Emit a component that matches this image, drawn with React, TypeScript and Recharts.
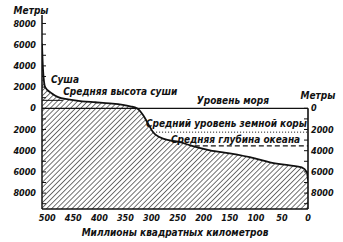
import React from 'react';
import { ComposedChart, Area, XAxis, YAxis, ReferenceLine, ReferenceDot } from 'recharts';

// гипсографическая кривая: площадь (млн км²) и высота/глубина (м)
const areaMln = [510, 508, 504, 491, 479, 460, 433, 408, 380, 341, 328, 316, 307, 297, 284, 265, 245, 226, 188, 150, 102, 73, 35, 12, 2, 0];
const heightM = [6100, 3600, 2000, 1400, 1050, 850, 660, 570, 470, 190, 0, -660, -1420, -2260, -2740, -3020, -3200, -3490, -3960, -4250, -4720, -5100, -5380, -5570, -6040, -6800];

const leftTicks = [8000, 7000, 6000, 5000, 4000, 3000, 2000, 1000, 0, -1000, -2000, -3000, -4000, -5000, -6000, -7000, -8000, -9000];
const rightTicks = [0, -1000, -2000, -3000, -4000, -5000, -6000, -7000, -8000, -9000];
const areaTicks = [0, 50, 100, 150, 200, 250, 300, 350, 400, 450, 500];

const meanLandHeight = 750;
const meanCrustLevel = -2250;
const meanOceanDepth = -3550;

const notes = [
  { text: 'Метры', area: 531, h: 9270, anchor: 'middle' },
  { text: 'Метры', area: -19, h: 1250, anchor: 'middle' },
  { text: 'Суша', area: 466, h: 2670, anchor: 'middle' },
  { text: 'Средняя высота суши', area: 360, h: 1540, anchor: 'middle' },
  { text: 'Уровень моря', area: 144, h: 690, anchor: 'middle' },
  { text: 'Средний уровень земной коры', area: 2, h: -1480, anchor: 'end' },
  { text: 'Средняя глубина океана', area: 15, h: -2990, anchor: 'end' },
];

const data = areaMln.map((a, i) => ({ area: a, h: heightM[i] }));

const FONT = '"DejaVu Sans Condensed", "Liberation Sans Narrow", Roboto, sans-serif';
const INK = '#111';

const textStyle = {
  fontFamily: FONT,
  fontStyle: 'italic' as const,
  fontWeight: 700,
  fill: INK,
};

const LeftTick = (props: any) => {
  const { x, y, payload } = props;
  const v = payload.value;
  return (
    <g>
      <line x1={x} x2={x + 4} y1={y} y2={y} stroke={INK} strokeWidth={1} />
      {v % 2000 === 0 && (
        <text x={x - 6} y={y} dy="0.35em" textAnchor="end" fontSize={9} {...textStyle}>
          {Math.abs(v)}
        </text>
      )}
    </g>
  );
};

const RightTick = (props: any) => {
  const { x, y, payload } = props;
  const v = payload.value;
  return (
    <g>
      <line x1={x - 4} x2={x} y1={y} y2={y} stroke={INK} strokeWidth={1} />
      {v % 2000 === 0 && (
        <text x={x + 3} y={y} dy="0.35em" textAnchor="start" fontSize={9} {...textStyle}>
          {Math.abs(v)}
        </text>
      )}
    </g>
  );
};

const Note = (props: any) => {
  const { viewBox, text, anchor } = props;
  const cx = viewBox.x + (viewBox.width || 0) / 2;
  const cy = viewBox.y + (viewBox.height || 0) / 2;
  return (
    <text x={cx} y={cy} dy="0.35em" textAnchor={anchor} fontSize={10} {...textStyle}>
      {text}
    </text>
  );
};

export default function App() {
  return (
    <div style={{ position: 'absolute', left: 0, top: 0, width: 343, height: 242, background: '#fff' }}>
      <ComposedChart width={343} height={242} data={data} margin={{ top: 15, right: 34, bottom: 32, left: 41 }}>
        <defs>
          <pattern id="hatch" width="3.6" height="3.6" patternUnits="userSpaceOnUse" patternTransform="rotate(45)">
            <line x1="0" y1="0" x2="0" y2="3.6" stroke="#000" strokeWidth="1.1" />
          </pattern>
        </defs>
        <XAxis
          dataKey="area"
          type="number"
          domain={[0, 510]}
          reversed
          allowDataOverflow
          ticks={areaTicks}
          interval={0}
          height={1}
          tickSize={0}
          tickMargin={6}
          tickLine={false}
          axisLine={{ stroke: INK, strokeWidth: 1.6 }}
          tick={{ fontSize: 9, ...textStyle }}
          label={{ value: 'Миллионы квадратных километров', position: 'bottom', offset: 19, fontSize: 10, ...textStyle }}
        />
        <YAxis
          yAxisId="l"
          type="number"
          domain={[-9500, 8800]}
          allowDataOverflow
          ticks={leftTicks}
          interval={0}
          width={1}
          tickSize={0}
          tickMargin={0}
          tickLine={false}
          axisLine={{ stroke: INK, strokeWidth: 1.5 }}
          tick={(p: any) => <LeftTick {...p} />}
        />
        <YAxis
          yAxisId="r"
          orientation="right"
          type="number"
          domain={[-9500, 8800]}
          allowDataOverflow
          ticks={rightTicks}
          interval={0}
          width={1}
          tickSize={0}
          tickMargin={0}
          tickLine={false}
          axisLine={false}
          tick={(p: any) => <RightTick {...p} />}
        />
        <Area
          yAxisId="l"
          dataKey="h"
          type="monotone"
          baseValue="dataMin"
          stroke={INK}
          strokeWidth={1.8}
          fill="url(#hatch)"
          fillOpacity={1}
          dot={false}
          activeDot={false}
          isAnimationActive={false}
        />
        <ReferenceLine yAxisId="l" y={0} stroke={INK} strokeWidth={1.3} />
        <ReferenceLine
          yAxisId="l"
          segment={[{ x: 0, y: 0 }, { x: 0, y: -9500 }]}
          stroke={INK}
          strokeWidth={1.6}
        />
        <ReferenceLine
          yAxisId="l"
          segment={[{ x: 510, y: meanLandHeight }, { x: 470, y: meanLandHeight }]}
          stroke={INK}
          strokeWidth={1}
        />
        <ReferenceLine
          yAxisId="l"
          segment={[{ x: 297, y: meanCrustLevel }, { x: 0, y: meanCrustLevel }]}
          stroke={INK}
          strokeWidth={1}
          strokeDasharray="1 2"
        />
        <ReferenceLine
          yAxisId="l"
          segment={[{ x: 217, y: meanOceanDepth }, { x: 0, y: meanOceanDepth }]}
          stroke={INK}
          strokeWidth={1.4}
          strokeDasharray="5 3"
        />
        {notes.map((n, i) => (
          <ReferenceDot
            key={i}
            yAxisId="l"
            x={n.area}
            y={n.h}
            r={0}
            fill="none"
            stroke="none"
            ifOverflow="visible"
            label={<Note text={n.text} anchor={n.anchor} />}
          />
        ))}
      </ComposedChart>
    </div>
  );
}
